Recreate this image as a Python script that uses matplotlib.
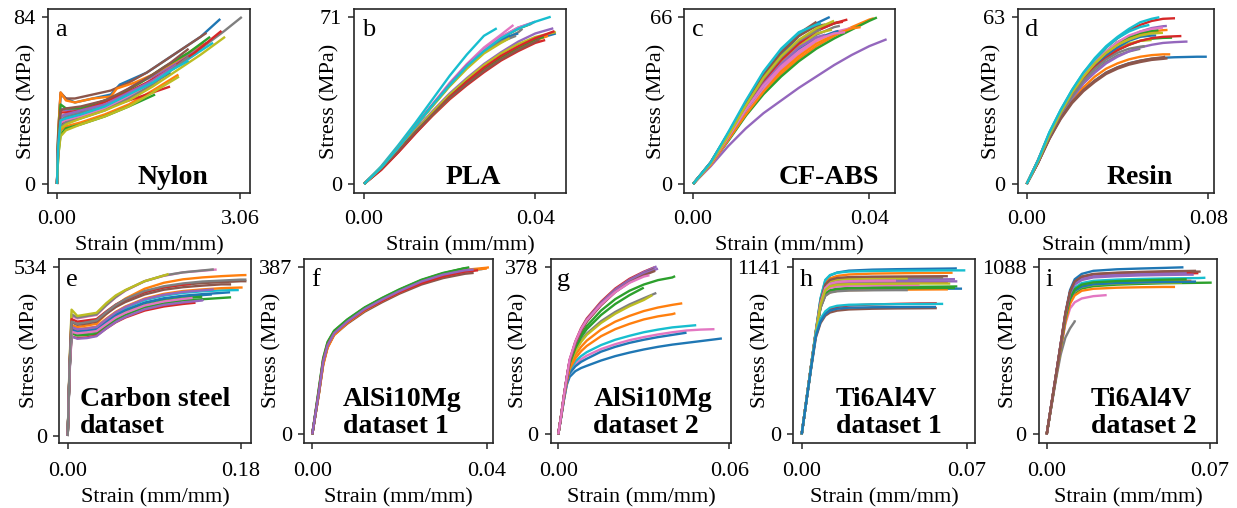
import matplotlib
matplotlib.use('Agg')
import matplotlib.pyplot as plt

plt.rcParams['font.family'] = ['Liberation Serif', 'DejaVu Serif']

# ---------------- (a) Nylon : explicit strain / stress per specimen ----------------
nylon_strain = [
    [0, 0.02, 0.06, 0.15, 0.3, 0.6, 0.9, 1.05, 1.2, 1.5, 1.8, 2.1, 2.4, 2.73],
    [0, 0.02, 0.06, 0.15, 0.4, 0.8, 1.2, 1.6, 2.03],
    [0, 0.02, 0.06, 0.15, 0.4, 0.8, 1.2, 1.64],
    [0, 0.02, 0.06, 0.15, 0.4, 0.8, 1.2, 1.5, 1.89],
    [0, 0.02, 0.06, 0.15, 0.4, 0.7, 1.0, 1.3, 1.6, 2.0, 2.3, 2.5],
    [0, 0.02, 0.06, 0.15, 0.3, 0.6, 0.9, 1.2, 1.5, 1.8, 2.1, 2.5],
    [0, 0.02, 0.06, 0.15, 0.4, 0.8, 1.2, 1.6, 2.0, 2.35],
    [0, 0.02, 0.06, 0.15, 0.4, 0.8, 1.2, 1.6, 2.0, 2.4, 2.8, 3.09],
    [0, 0.02, 0.06, 0.15, 0.4, 0.8, 1.2, 1.6, 2.04],
    [0, 0.02, 0.06, 0.15, 0.4, 0.8, 1.2, 1.6, 2.0, 2.3, 2.61],
    [0, 0.02, 0.06, 0.15, 0.4, 0.8, 1.2, 1.5, 1.9],
    [0, 0.02, 0.06, 0.15, 0.3, 0.6, 0.9, 1.0, 1.3, 1.6, 2.0, 2.45],
    [0, 0.02, 0.06, 0.15, 0.4, 0.7, 1.0, 1.4, 1.8, 2.2, 2.56],
    [0, 0.02, 0.06, 0.15, 0.4, 0.7, 1.1, 1.5, 1.9, 2.3, 2.75],
    [0, 0.02, 0.06, 0.15, 0.4, 0.8, 1.2, 1.6, 2.0],
    [0, 0.02, 0.06, 0.15, 0.4, 0.8, 1.2, 1.6, 1.9, 2.2],
    [0, 0.02, 0.06, 0.15, 0.4, 0.8, 1.2, 1.5, 1.8],
    [0, 0.02, 0.06, 0.15, 0.4, 0.8, 1.2, 1.6, 1.9, 2.2],
    [0, 0.02, 0.06, 0.15, 0.4, 0.8, 1.2, 1.6, 2.0, 2.4, 2.81],
    [0, 0.02, 0.06, 0.15, 0.4, 0.8, 1.2, 1.6, 1.9, 2.2],
]
nylon_stress = [
    [0, 25, 45, 43, 41, 43, 45, 50, 52, 56, 62, 68, 74, 83],
    [0, 15, 27, 29, 31, 35, 40, 47, 55],
    [0, 14, 25, 28, 30, 34, 39, 45],
    [0, 18, 30, 32, 34, 38, 42, 45, 49],
    [0, 22, 38, 37, 38, 41, 44, 50, 54, 61, 67, 71],
    [0, 26, 46, 43, 43, 45, 47, 51, 56, 62, 68, 76],
    [0, 20, 33, 34, 36, 39, 45, 52, 59, 66],
    [0, 20, 32, 34, 36, 39, 45, 52, 60, 68, 77, 84],
    [0, 14, 24, 27, 30, 34, 39, 46, 54],
    [0, 20, 34, 35, 37, 40, 45, 52, 59, 65, 71],
    [0, 18, 31, 33, 35, 38, 44, 49, 56],
    [0, 26, 46, 42, 41, 43, 44, 48, 51, 55, 62, 71],
    [0, 24, 40, 38, 38, 41, 44, 51, 59, 66, 74],
    [0, 22, 36, 36, 37, 40, 45, 51, 58, 66, 77],
    [0, 20, 34, 35, 37, 40, 46, 52, 60],
    [0, 22, 37, 38, 39, 42, 48, 55, 61, 68],
    [0, 18, 31, 32, 34, 38, 44, 49, 55],
    [0, 17, 29, 31, 33, 37, 43, 50, 57, 64],
    [0, 16, 28, 30, 33, 37, 42, 49, 57, 65, 74],
    [0, 19, 32, 33, 35, 39, 45, 51, 57, 62],
]

# ---------------- (b) PLA : shared strain grid, end strain per specimen ----------------
pla_grid = [0, 0.004, 0.008, 0.012, 0.016, 0.020, 0.024, 0.028, 0.032, 0.036, 0.040]
pla_end = [0.0448, 0.033, 0.0392, 0.0423, 0.0442, 0.034, 0.0349, 0.037, 0.0448, 0.031,
           0.036, 0.043, 0.042, 0.0445, 0.04, 0.041, 0.0395, 0.0355, 0.034, 0.0436]
pla_stress = [
    [0, 6.5, 14.5, 22.5, 30, 37, 43.5, 49, 54, 58, 61.5, 64.0],
    [0, 7, 15.5, 24.5, 33.5, 42, 50, 56.5, 60.5, 61.2],
    [0, 7, 15.5, 24.5, 33.5, 42, 50, 57, 62, 66, 68.2],
    [0, 6, 13.5, 21.5, 29, 36, 42, 47.5, 52.5, 56.5, 60, 61.2],
    [0, 6.5, 14.5, 23, 31, 38.5, 45, 51, 56, 60.5, 64, 66.2],
    [0, 7, 15.5, 24.5, 33.5, 42, 49.5, 56, 61, 63.5],
    [0, 7, 16, 25, 34, 43, 51, 58, 63.5, 67.6],
    [0, 7, 15.5, 24.5, 33.5, 42, 49.5, 56, 61, 64.5, 66],
    [0, 6.5, 14.5, 22.5, 30.5, 38, 44.5, 50.5, 55.5, 59.5, 62.5, 64.6],
    [0, 7.5, 16.5, 26, 36, 46, 55, 63, 66.2],
    [0, 7, 15.5, 24.5, 33.5, 42, 50, 56.5, 61.5, 64],
    [0, 6.5, 14, 22, 29.5, 36.5, 43, 48.5, 53.5, 57.5, 61, 63],
    [0, 6.5, 14, 22, 29.5, 37, 43.5, 49, 54, 58, 61.5, 62.5],
    [0, 6, 13.5, 21.5, 29.5, 37, 43.5, 49.5, 54.5, 58.5, 62, 65],
    [0, 7, 15.5, 24.5, 33.5, 42.5, 50.5, 57, 62.5, 66.5, 69],
    [0, 6.5, 14, 22, 29.5, 36.5, 42.5, 48, 53, 57, 60.5, 61.5],
    [0, 7, 15.5, 24.5, 33.5, 42, 50, 57, 62.5, 66.5, 68.5],
    [0, 7, 15.5, 24.5, 33.5, 42, 49.5, 56, 60.5, 63],
    [0, 7, 15.5, 24.5, 33, 41.5, 49, 55.5, 60, 62],
    [0, 7, 15.5, 24.5, 33.5, 42, 50, 56.5, 62, 66, 69, 71.1],
]

# ---------------- (c) CF-ABS ----------------
cfabs_grid = [0, 0.004, 0.008, 0.012, 0.016, 0.020, 0.024, 0.028, 0.032, 0.036, 0.040]
cfabs_end = [0.031, 0.041, 0.0417, 0.034, 0.0439, 0.028, 0.036, 0.0333, 0.0315, 0.031,
             0.033, 0.038, 0.033, 0.035, 0.03, 0.03, 0.0345, 0.029, 0.032, 0.029]
cfabs_stress = [
    [0, 8, 19, 31, 42, 51, 58.5, 63.5, 66],
    [0, 7.5, 17.5, 27.5, 36, 43.5, 49.5, 54.5, 58.5, 62, 65, 65.5],
    [0, 7.5, 17, 27, 35.5, 42.5, 48.5, 53.5, 57.5, 61, 64.5, 65.8],
    [0, 8, 18.5, 30, 40.5, 49, 55.5, 60.5, 63.5, 64.1],
    [0, 7, 15, 22, 28, 33, 38, 42.5, 47, 51, 54.5, 57.2],
    [0, 8.5, 20, 32, 43.5, 52.5, 59.5, 64.1],
    [0, 7.5, 17.5, 28, 37.5, 45.5, 51.5, 56.5, 60, 61.7],
    [0, 8, 18.5, 29.5, 39.5, 47.5, 54, 59, 62, 62.5],
    [0, 8, 18.5, 29.5, 39.5, 48, 54.5, 59.5, 61],
    [0, 8.5, 20, 32.5, 44, 53, 59.5, 62.5, 63],
    [0, 8, 18.5, 29.5, 39, 47, 53, 57.5, 60, 60.5],
    [0, 7.5, 17.5, 27.5, 36.5, 44.5, 50.5, 55.5, 59, 61.5, 62],
    [0, 8, 19, 30.5, 41, 49.5, 56, 61, 63.5, 64],
    [0, 8, 18.5, 30, 40.5, 49, 55.5, 60.5, 63.5, 65],
    [0, 8, 18.5, 29.5, 39.5, 47.5, 54, 58, 59],
    [0, 8.5, 20, 32, 43, 52, 58.5, 62.5, 63],
    [0, 8, 18.5, 29.5, 39, 46.5, 52.5, 57, 59.5, 60],
    [0, 8.5, 19.5, 31, 41.5, 50, 56.5, 60.5, 61],
    [0, 8, 19, 31, 42, 50.5, 57, 61.5, 64.5],
    [0, 8.5, 20.5, 33, 44.5, 53.5, 60, 63, 63.5],
]

# ---------------- (d) Resin ----------------
resin_grid = [0, 0.005, 0.01, 0.015, 0.02, 0.025, 0.03, 0.035, 0.04, 0.045,
              0.05, 0.055, 0.06, 0.065, 0.07, 0.075]
resin_end = [0.0793, 0.0632, 0.064, 0.0653, 0.0617, 0.062, 0.058, 0.05, 0.055, 0.0584,
             0.057, 0.062, 0.058, 0.0681, 0.0708, 0.061, 0.06, 0.052, 0.06, 0.054]
resin_stress = [
    [0, 8, 17.5, 25, 31, 35.5, 39, 42, 44, 45.5, 46.5, 47.2, 47.6, 47.8, 47.9, 48, 48],
    [0, 8, 17.5, 25.5, 31.5, 36.5, 40.5, 43.5, 45.5, 47, 48, 48.6, 48.9, 48.9],
    [0, 8.5, 18.5, 27, 34, 40, 44.5, 48, 50.5, 52.5, 54, 54.8, 55.1, 55.2],
    [0, 9, 19, 27.5, 35, 41.5, 47, 51.5, 55, 58, 60, 61.5, 62.3, 62.5, 62.5],
    [0, 8.5, 18.5, 27, 34, 40, 45, 49.5, 53, 55.5, 57.5, 58.8, 59.5, 59.6],
    [0, 8, 17, 24.5, 30.5, 35, 38.5, 41.5, 43.5, 45, 46, 46.8, 47.2, 47.4],
    [0, 8.5, 18.5, 27, 34, 40, 45, 49, 52.5, 55, 56.5, 57, 57],
    [0, 8.5, 18, 26, 32.5, 38, 42.5, 46, 48.5, 50, 51],
    [0, 8.5, 18.5, 27, 34, 40, 44.5, 48, 51, 53, 54, 54.3],
    [0, 9, 19.5, 28, 35.5, 42, 47.5, 52, 55.5, 58.5, 61, 62.3, 62.9],
    [0, 8.5, 18.5, 27, 34, 40, 44.5, 48.5, 51.5, 54, 55.5, 56, 56],
    [0, 8.5, 18.5, 27, 34.5, 40.5, 45.5, 49.5, 52.5, 55, 56.5, 57.5, 58, 58.1],
    [0, 9, 19, 27.5, 35, 41, 46, 50, 53.5, 55.5, 57, 57.8, 58],
    [0, 8.5, 18, 26.5, 33.5, 39.5, 44, 47.5, 50.5, 52.5, 54, 55, 55.5, 55.7, 55.8],
    [0, 8, 17.5, 26, 32.5, 38, 42, 45.5, 48, 50, 51.5, 52.5, 53.2, 53.5, 53.7, 53.7],
    [0, 8, 17, 25, 31, 35.5, 39, 42, 44, 45.5, 46.5, 47.3, 47.8, 48],
    [0, 9, 19, 27.5, 35, 41, 46, 50, 53.5, 56, 57.5, 58.5, 59],
    [0, 8.5, 18, 26.5, 33, 39, 43.5, 47, 49.5, 51, 51.8, 52],
    [0, 8.5, 18.5, 27, 34.5, 40.5, 45.5, 49.5, 52.5, 54.5, 56, 56.8, 57],
    [0, 9, 19.5, 28, 35.5, 42, 47, 51.5, 55, 57.5, 59.2, 60],
]

# ---------------- (e) Carbon steel ----------------
steel_grid = [0, 0.002, 0.004, 0.01, 0.02, 0.03, 0.04, 0.05, 0.06, 0.08,
              0.10, 0.12, 0.14, 0.16, 0.18]
steel_end = [0.169, 0.186, 0.170, 0.133, 0.141, 0.186, 0.155, 0.152, 0.105,
             0.178, 0.15, 0.182, 0.14, 0.128, 0.152, 0.17, 0.13, 0.186]
steel_stress = [
    [0, 220, 335, 328, 332, 336, 360, 381, 398, 422, 436, 444, 449, 453, 455],
    [0, 220, 350, 345, 350, 355, 386, 414, 435, 466, 485, 496, 502, 506, 509, 509.5],
    [0, 210, 325, 318, 320, 323, 346, 367, 383, 407, 420, 429, 433, 437, 439],
    [0, 210, 315, 310, 312, 318, 340, 360, 375, 397, 410, 418, 422],
    [0, 200, 315, 308, 310, 316, 340, 361, 377, 401, 415, 423, 429, 432],
    [0, 220, 360, 355, 360, 365, 390, 413, 430, 455, 470, 479, 484, 487, 490, 490],
    [0, 230, 380, 372, 378, 383, 413, 439, 460, 490, 507, 518, 523, 527],
    [0, 230, 385, 375, 380, 385, 414, 440, 461, 490, 508, 518, 524, 527.5],
    [0, 240, 400, 380, 385, 390, 420, 445, 462, 490, 508, 513],
    [0, 215, 340, 335, 338, 342, 366, 388, 405, 430, 444, 453, 458, 461, 462],
    [0, 215, 338, 332, 336, 340, 362, 383, 398, 421, 434, 442, 446, 448],
    [0, 215, 345, 338, 342, 346, 371, 393, 410, 435, 450, 459, 464, 468, 470, 470],
    [0, 210, 330, 322, 326, 330, 353, 374, 391, 414, 428, 436, 441],
    [0, 220, 370, 362, 366, 370, 394, 416, 432, 456, 471, 479, 481],
    [0, 215, 345, 338, 340, 345, 369, 391, 408, 433, 447, 456, 461, 464],
    [0, 220, 360, 352, 356, 362, 386, 408, 424, 448, 463, 471, 476, 480, 480],
    [0, 210, 330, 325, 328, 332, 354, 375, 390, 413, 426, 434, 437],
    [0, 225, 362, 355, 360, 366, 392, 415, 433, 459, 474, 483, 489, 492, 495, 495],
]

# ---------------- (f) AlSi10Mg dataset 1 ----------------
alsi1_grid = [0, 0.0015, 0.0025, 0.0035, 0.005, 0.008, 0.012, 0.016, 0.02, 0.025,
              0.03, 0.035, 0.04]
alsi1_end = [0.037, 0.0405, 0.035, 0.036, 0.034, 0.037, 0.036, 0.035, 0.038, 0.0375,
             0.039, 0.04, 0.036, 0.038, 0.037]
alsi1_stress = [
    [0, 96, 166, 204, 232, 258, 286, 308, 328, 350, 366, 377, 379],
    [0, 93, 162, 202, 232, 260, 289, 312, 332, 354, 370, 381, 386, 387],
    [0, 103, 174, 212, 239, 265, 293, 315, 335, 357, 373, 385],
    [0, 98, 169, 206, 233, 259, 287, 309, 329, 351, 367, 378, 380],
    [0, 98, 170, 208, 235, 261, 289, 311, 331, 353, 369, 377],
    [0, 95, 164, 202, 230, 256, 284, 306, 326, 347, 362, 372, 374],
    [0, 100, 172, 210, 237, 263, 291, 313, 333, 355, 371, 382, 384],
    [0, 97, 168, 206, 234, 260, 288, 310, 330, 352, 368, 377],
    [0, 96, 166, 205, 233, 259, 287, 309, 329, 351, 367, 378, 382],
    [0, 98, 169, 207, 234, 260, 288, 310, 330, 352, 368, 378, 381],
    [0, 94, 164, 204, 233, 260, 289, 311, 331, 353, 369, 379, 383],
    [0, 92, 160, 200, 230, 258, 287, 310, 330, 352, 368, 380, 384],
    [0, 106, 177, 214, 240, 266, 294, 316, 336, 358, 374, 385, 387],
    [0, 99, 170, 207, 234, 260, 288, 309, 329, 350, 366, 377, 380],
    [0, 97, 168, 206, 234, 261, 290, 312, 332, 354, 370, 380, 382],
]

# ---------------- (g) AlSi10Mg dataset 2 ----------------
alsi2_grid = [0, 0.001, 0.002, 0.003, 0.004, 0.006, 0.008, 0.01, 0.015, 0.02,
              0.025, 0.03, 0.035, 0.04, 0.045, 0.05, 0.055, 0.06]
alsi2_end = [0.0574, 0.0435, 0.041, 0.0338, 0.0345, 0.0335, 0.0548, 0.0344, 0.033,
             0.0484, 0.045, 0.0411, 0.03, 0.034, 0.035, 0.034, 0.032]
alsi2_stress = [
    [0, 38, 78, 112, 130, 143, 150, 155, 167, 177, 185, 192, 198, 203, 207, 211, 215, 217],
    [0, 41, 84, 123, 152, 180, 198, 212, 237, 255, 268, 279, 287, 293, 296.5],
    [0, 42, 87, 128, 163, 200, 226, 245, 280, 306, 325, 339, 349, 355, 358],
    [0, 42, 88, 130, 168, 210, 240, 262, 300, 330, 352, 368, 378],
    [0, 42, 88, 130, 168, 208, 238, 260, 298, 328, 350, 367, 380],
    [0, 42, 88, 130, 167, 207, 236, 258, 296, 326, 348, 364, 374],
    [0, 40, 80, 116, 140, 158, 170, 178, 193, 204, 213, 220, 226, 231, 235, 237, 238],
    [0, 41, 85, 126, 158, 190, 212, 228, 256, 277, 294, 308, 320],
    [0, 41, 85, 125, 156, 188, 209, 225, 252, 273, 290, 304, 315],
    [0, 40, 82, 120, 145, 165, 177, 186, 202, 214, 223, 231, 237, 242, 245, 247],
    [0, 39, 80, 116, 138, 154, 164, 171, 187, 198, 207, 214, 220, 225, 230],
    [0, 40, 82, 120, 148, 172, 188, 200, 222, 238, 250, 260, 267, 272, 274],
    [0, 41, 86, 127, 160, 195, 220, 238, 270, 295, 315, 332],
    [0, 42, 87, 129, 166, 206, 235, 256, 293, 323, 346, 362, 372],
    [0, 42, 87, 129, 166, 206, 236, 258, 296, 326, 348, 364, 375],
    [0, 42, 87, 128, 165, 205, 234, 255, 292, 322, 344, 360, 370],
    [0, 42, 88, 130, 170, 210, 238, 258, 294, 322, 343, 357, 360],
]

# ---------------- (h) Ti6Al4V dataset 1 ----------------
ti1_grid = [0, 0.002, 0.004, 0.006, 0.008, 0.01, 0.012, 0.015, 0.02, 0.03,
            0.04, 0.05, 0.06, 0.065, 0.07]
ti1_end = [0.0658, 0.064, 0.066, 0.0573, 0.065, 0.0573, 0.05, 0.06, 0.045, 0.0694,
           0.068, 0.062, 0.065, 0.062, 0.066, 0.062, 0.04, 0.045, 0.063, 0.06, 0.057]
ti1_stress = [
    [0, 235, 470, 705, 925, 1050, 1085, 1105, 1118, 1125, 1128, 1130, 1132, 1133, 1134],
    [0, 235, 470, 700, 915, 1030, 1065, 1082, 1092, 1098, 1100, 1102, 1103, 1104],
    [0, 232, 465, 690, 870, 960, 985, 995, 1000, 1004, 1006, 1008, 1009, 1010, 1010],
    [0, 230, 460, 680, 780, 830, 855, 870, 880, 887, 891, 894, 895],
    [0, 233, 466, 695, 890, 990, 1020, 1035, 1045, 1050, 1054, 1057, 1059, 1060],
    [0, 225, 450, 660, 760, 810, 832, 845, 853, 858, 860, 861, 862],
    [0, 233, 467, 695, 880, 975, 1000, 1010, 1015, 1018, 1019, 1020],
    [0, 234, 468, 698, 900, 1010, 1040, 1055, 1062, 1066, 1068, 1069, 1070],
    [0, 234, 468, 698, 905, 1015, 1045, 1057, 1062, 1064, 1065, 1065],
    [0, 236, 472, 708, 930, 1055, 1088, 1104, 1112, 1116, 1118, 1119, 1120, 1120, 1120],
    [0, 230, 462, 688, 865, 950, 972, 982, 988, 991, 993, 994, 995, 995, 995],
    [0, 232, 464, 690, 870, 950, 970, 980, 985, 987, 988, 989, 990, 990],
    [0, 232, 464, 690, 875, 960, 982, 990, 995, 997, 998, 999, 1000, 1000],
    [0, 233, 466, 695, 890, 995, 1022, 1032, 1036, 1038, 1039, 1040, 1040, 1040],
    [0, 233, 466, 695, 890, 995, 1025, 1035, 1040, 1042, 1043, 1044, 1045, 1045, 1045],
    [0, 234, 468, 700, 910, 1025, 1055, 1068, 1074, 1077, 1078, 1079, 1080, 1080],
    [0, 233, 467, 697, 895, 1000, 1028, 1040, 1046, 1049, 1050],
    [0, 231, 462, 688, 865, 945, 968, 977, 982, 984, 985, 985],
    [0, 233, 466, 695, 885, 985, 1012, 1022, 1026, 1028, 1029, 1030, 1030, 1030],
    [0, 230, 460, 685, 790, 840, 865, 878, 885, 888, 889, 890, 891],
    [0, 228, 455, 670, 770, 820, 845, 858, 865, 868, 869, 870, 870],
]

# ---------------- (i) Ti6Al4V dataset 2 ----------------
ti2_grid = [0, 0.002, 0.004, 0.006, 0.008, 0.01, 0.012, 0.015, 0.02, 0.03,
            0.04, 0.05, 0.06, 0.065, 0.07]
ti2_end = [0.0586, 0.062, 0.0707, 0.065, 0.063, 0.066, 0.0257, 0.0121, 0.058, 0.068,
           0.064, 0.055, 0.06, 0.062, 0.06, 0.064]
ti2_stress = [
    [0, 195, 390, 590, 790, 940, 1010, 1045, 1065, 1075, 1080, 1084, 1088],
    [0, 190, 380, 570, 750, 880, 940, 970, 985, 992, 995, 998, 1000, 1000],
    [0, 188, 378, 565, 740, 865, 920, 950, 965, 975, 980, 984, 986, 987, 988, 988],
    [0, 193, 388, 585, 780, 920, 985, 1015, 1032, 1040, 1044, 1047, 1049, 1050],
    [0, 192, 386, 580, 770, 910, 975, 1005, 1022, 1030, 1035, 1038, 1040, 1040],
    [0, 194, 389, 588, 785, 928, 995, 1025, 1042, 1050, 1054, 1057, 1059, 1060, 1060],
    [0, 185, 370, 555, 720, 820, 860, 885, 900, 907],
    [0, 180, 360, 520, 630, 690, 735, 743],
    [0, 189, 380, 568, 745, 870, 930, 960, 975, 983, 987, 989, 990],
    [0, 191, 383, 575, 760, 895, 955, 985, 1000, 1008, 1012, 1015, 1017, 1018, 1020],
    [0, 189, 380, 568, 748, 875, 935, 962, 977, 985, 989, 992, 994, 995],
    [0, 188, 376, 560, 730, 850, 905, 935, 948, 955, 958, 960, 960],
    [0, 190, 382, 572, 755, 885, 945, 975, 990, 998, 1003, 1007, 1010],
    [0, 194, 388, 586, 782, 925, 990, 1020, 1038, 1046, 1051, 1055, 1058, 1060],
    [0, 193, 387, 584, 778, 918, 982, 1012, 1030, 1039, 1044, 1048, 1050],
    [0, 194, 389, 588, 785, 928, 995, 1028, 1045, 1053, 1058, 1062, 1064, 1065],
]

panel_letters = ['a', 'b', 'c', 'd', 'e', 'f', 'g', 'h', 'i']
panel_names = [['Nylon'], ['PLA'], ['CF-ABS'], ['Resin'],
               ['Carbon steel', 'dataset'], ['AlSi10Mg', 'dataset 1'],
               ['AlSi10Mg', 'dataset 2'], ['Ti6Al4V', 'dataset 1'], ['Ti6Al4V', 'dataset 2']]
x_tick_max = [3.06, 0.04, 0.04, 0.08, 0.18, 0.04, 0.06, 0.07, 0.07]
y_tick_max = [84, 71, 66, 63, 534, 387, 378, 1141, 1088]


def grid_curves(grid, ends, stresses):
    out = []
    for end, ys in zip(ends, stresses):
        xs = [g for g in grid if g < end] + [end]
        n = min(len(xs), len(ys))
        out.append((xs[:n], ys[:n]))
    return out


curves = [
    list(zip(nylon_strain, nylon_stress)),
    grid_curves(pla_grid, pla_end, pla_stress),
    grid_curves(cfabs_grid, cfabs_end, cfabs_stress),
    grid_curves(resin_grid, resin_end, resin_stress),
    grid_curves(steel_grid, steel_end, steel_stress),
    grid_curves(alsi1_grid, alsi1_end, alsi1_stress),
    grid_curves(alsi2_grid, alsi2_end, alsi2_stress),
    grid_curves(ti1_grid, ti1_end, ti1_stress),
    grid_curves(ti2_grid, ti2_end, ti2_stress),
]

# ---------------- layout (pixel boxes: left, right, top, bottom) ----------------
W, H = 1237, 508
boxes = [(48, 250, 9, 193), (354.3, 565.7, 9, 193), (684.3, 895, 9, 193),
         (1017.7, 1214.3, 9, 193),
         (59.3, 250.7, 259, 442.7), (304.3, 493.3, 259, 442.7), (551, 731, 259, 442.7),
         (793.3, 975, 259, 442.7), (1039, 1217.3, 259, 442.7)]
xlims = [(-0.1505, 3.227), (-0.00227, 0.0471), (-0.00197, 0.0458), (-0.00396, 0.0826),
         (-0.00874, 0.1904), (-0.00183, 0.0415), (-0.00255, 0.0606), (-0.00356, 0.0735),
         (-0.0033, 0.0731)]
ylims = [(-4.53, 88.0), (-3.83, 74.4), (-3.56, 69.16), (-3.39, 66.0),
         (-21.2, 560.3), (-19.5, 406.2), (-19.0, 396.8), (-57.4, 1197.7), (-54.7, 1142.1)]
ylabel_off = [12, 15, 17.6, 16, 20, 22.6, 22.7, 23.3, 20.7]
name_x = [0.444, 0.432, 0.446, 0.453, 0.108, 0.206, 0.235, 0.235, 0.29]

fig = plt.figure(figsize=(W / 100, H / 100), dpi=100)
spine_c = '#262626'

for k in range(9):
    l, r, t, b = boxes[k]
    ax = fig.add_axes([l / W, (H - b) / H, (r - l) / W, (b - t) / H])
    for xs, ys in curves[k]:
        ax.plot(xs, ys, lw=1.7, solid_capstyle='butt')
    ax.set_xlim(*xlims[k])
    ax.set_ylim(*ylims[k])
    ax.set_xticks([0, x_tick_max[k]])
    ax.set_xticklabels(['0.00', f'{x_tick_max[k]:.2f}'])
    ax.set_yticks([0, y_tick_max[k]])
    ax.set_yticklabels(['0', str(y_tick_max[k])])
    top_row = k < 4
    ax.tick_params(axis='x', length=4, width=1.1, color=spine_c, labelsize=16,
                   pad=8 if top_row else 10)
    ax.tick_params(axis='y', length=4, width=1.1, color=spine_c, labelsize=16, pad=5)
    for s in ax.spines.values():
        s.set_linewidth(1.2)
        s.set_color(spine_c)
    w_px = r - l
    h_px = b - t
    ax.set_ylabel('Stress (MPa)', fontsize=16)
    ax.yaxis.set_label_coords(-ylabel_off[k] / w_px, 0.5)
    ax.set_xlabel('Strain (mm/mm)', fontsize=16)
    ax.xaxis.set_label_coords(0.5, -43 / h_px if top_row else -45.5 / h_px)
    ax.xaxis.label.set_va('top')
    ax.text(0.035, 0.855, panel_letters[k], transform=ax.transAxes, fontsize=19,
            va='baseline', ha='left')
    lines = panel_names[k]
    base = 0.048 if top_row else 0.054
    step = 26.5 / h_px
    for j, line in enumerate(lines):
        ax.text(name_x[k], base + step * (len(lines) - 1 - j), line,
                transform=ax.transAxes, fontsize=20, fontweight='bold',
                va='baseline', ha='left')

fig.savefig('out.png', dpi=100)
